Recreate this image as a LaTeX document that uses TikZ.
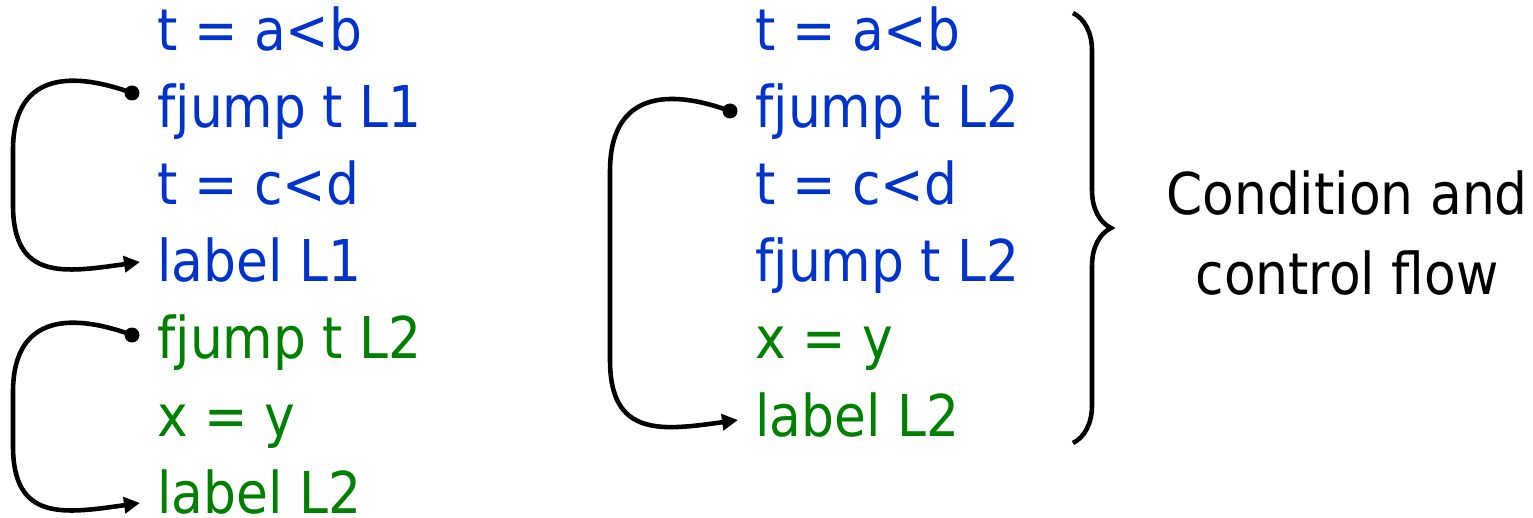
\documentclass[tikz,border=0pt]{standalone}
\usepackage{fontspec}
\setmainfont{DejaVu Sans}[FakeStretch=0.9]
\usepackage{tikz}
\usetikzlibrary{arrows.meta, positioning, calc, decorations.pathreplacing}

\definecolor{condblue}{RGB}{0,51,204}
\definecolor{bodygreen}{RGB}{0,128,0}

\begin{document}
\begin{tikzpicture}[x=0.02cm, y=0.02cm, >=Stealth,
    code/.style={anchor=base west, inner sep=0pt, font=\fontsize{32.8}{40}\selectfont},
    note/.style={anchor=base, inner sep=0pt, font=\fontsize{32.8}{40}\selectfont},
    jump/.style={line width=2.6pt, -{Triangle[length=0.32cm, width=0.32cm]}},
    dot/.style={fill=black}]
  \useasboundingbox (0,0) rectangle (1533,517);

  % Left column: separate condition and body
  \node[code, text=condblue]  (la1) at (157,466) {t = a<b};
  \node[code, text=condblue]  (lf1) at (157,389) {fjump t L1};
  \node[code, text=condblue]  (la2) at (157,312) {t = c<d};
  \node[code, text=condblue]  (ll1) at (157,235) {label L1};
  \node[code, text=bodygreen] (lf2) at (157,158) {fjump t L2};
  \node[code, text=bodygreen] (lx)  at (157,81)  {x = y};
  \node[code, text=bodygreen] (ll2) at (157,4)   {label L2};

  % Middle column: merged condition and control flow
  \node[code, text=condblue]  (ma1) at (755,466) {t = a<b};
  \node[code, text=condblue]  (mf1) at (755,389) {fjump t L2};
  \node[code, text=condblue]  (ma2) at (755,312) {t = c<d};
  \node[code, text=condblue]  (mf2) at (755,235) {fjump t L2};
  \node[code, text=bodygreen] (mx)  at (755,158) {x = y};
  \node[code, text=bodygreen] (ml2) at (755,81)  {label L2};

  % Jump ends
  \coordinate (s1) at ([shift={(-25,35)}]lf1.base west);
  \coordinate (t1) at ([shift={(-17,20)}]ll1.base west);
  \coordinate (s2) at ([shift={(-25,24)}]lf2.base west);
  \coordinate (t2) at ([shift={(-17,10)}]ll2.base west);
  \coordinate (s3) at ([shift={(-25,17)}]mf1.base west);
  \coordinate (t3) at ([shift={(-17,16)}]ml2.base west);

  % Jumps
  \draw[jump] (s1) to[out=160, in=90, looseness=1.4] ++(-119,-57)
    -- ([shift={(-127,57)}]t1) to[out=-90, in=188, looseness=1.4] (t1);
  \draw[jump] (s2) to[out=160, in=90, looseness=1.4] ++(-119,-57)
    -- ([shift={(-127,57)}]t2) to[out=-90, in=188, looseness=1.4] (t2);
  \draw[jump] (s3) to[out=160, in=90, looseness=1.4] ++(-120,-60)
    -- ([shift={(-128,60)}]t3) to[out=-90, in=188, looseness=1.4] (t3);
  \foreach \s in {s1, s2, s3}
    \fill[dot] (\s) circle[radius=0.15cm];

  % Brace and note
  \draw[line width=2.6pt, decorate, decoration={brace, amplitude=0.76cm}]
    (1073,504) -- (1073,74);
  \node[note] (cond1) at (1347,302) {Condition and};
  \node[note] (cond2) at (1347,222) {control flow};
\end{tikzpicture}
\end{document}
